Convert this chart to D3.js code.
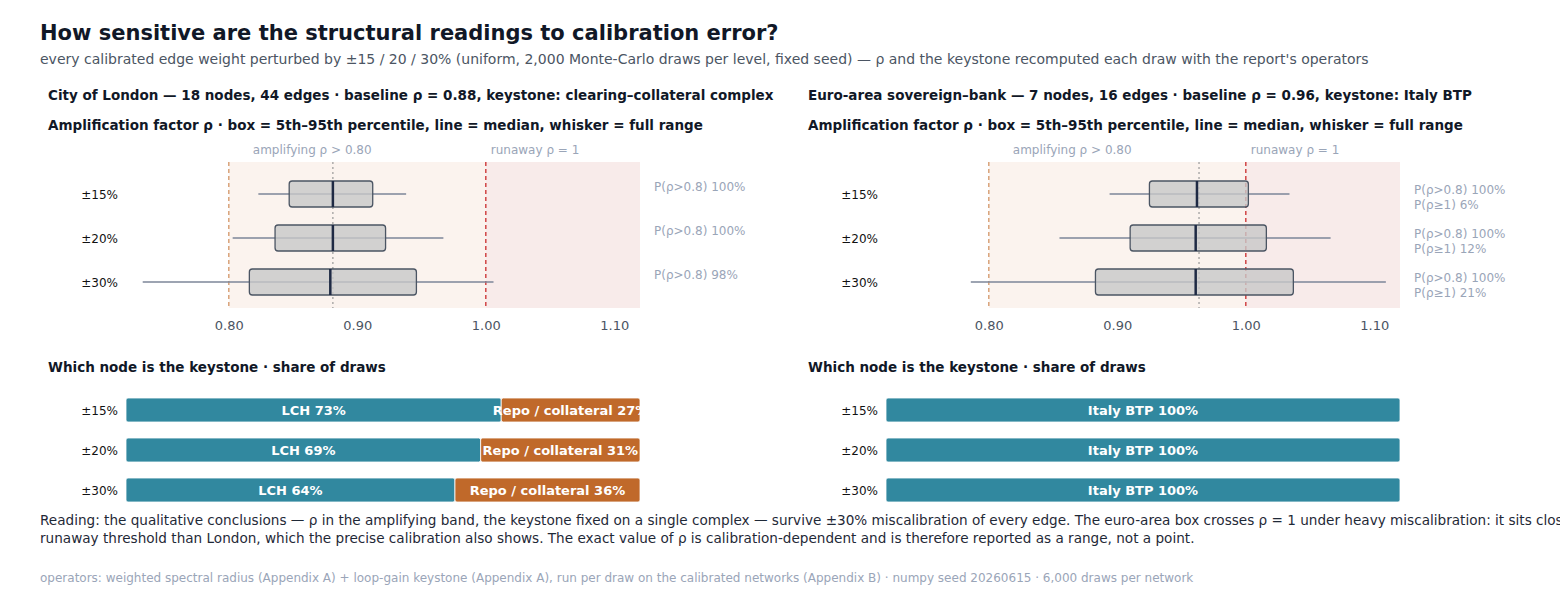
<!DOCTYPE html><html><head><meta charset="utf-8">
<script src="https://cdn.jsdelivr.net/npm/d3@7"></script>
<style>body{margin:0;background:#fff;font-family:"DejaVu Sans",sans-serif}</style></head><body>
<svg id="c" width="1560" height="600"></svg>
<script>
const levels=["±15%","±20%","±30%"];
const panels=["City of London — 18 nodes, 44 edges · baseline ρ = 0.88, keystone: clearing–collateral complex","Euro-area sovereign–bank — 7 nodes, 16 edges · baseline ρ = 0.96, keystone: Italy BTP"];
const baseline=[0.881,0.9636];
// [whiskerLo, p5, median, p95, whiskerHi]
const londonStats=[[0.823,0.847,0.881,0.912,0.938],[0.803,0.836,0.881,0.922,0.967],[0.733,0.816,0.879,0.946,1.006]];
const euroStats=[[0.894,0.925,0.962,1.002,1.034],[0.855,0.910,0.961,1.016,1.066],[0.786,0.883,0.961,1.037,1.109]];
const londonProb=[["P(ρ>0.8) 100%"],["P(ρ>0.8) 100%"],["P(ρ>0.8) 98%"]];
const euroProb=[["P(ρ>0.8) 100%","P(ρ≥1) 6%"],["P(ρ>0.8) 100%","P(ρ≥1) 12%"],["P(ρ>0.8) 100%","P(ρ≥1) 21%"]];
const londonKey=[[["LCH",73],["Repo / collateral",27]],[["LCH",69],["Repo / collateral",31]],[["LCH",64],["Repo / collateral",36]]];
const euroKey=[[["Italy BTP",100]],[["Italy BTP",100]],[["Italy BTP",100]]];
const xTicks=[0.8,0.9,1.0,1.1];
const svg=d3.select("#c");
svg.append("text").attr("x",40).attr("y",40).attr("font-size",21).attr("font-weight","bold").attr("fill","#111827").text("How sensitive are the structural readings to calibration error?");
svg.append("text").attr("x",40).attr("y",64).attr("font-size",14).attr("fill","#4b5563").text("every calibrated edge weight perturbed by ±15 / 20 / 30% (uniform, 2,000 Monte-Carlo draws per level, fixed seed) — ρ and the keystone recomputed each draw with the report's operators");
const colors=["#31889f","#c0692a"];
function panel(i,stats,probs,keys){
  const ox=i*760;
  const g=svg.append("g").attr("transform",`translate(${ox},0)`);
  g.append("text").attr("x",48).attr("y",100).attr("font-size",13.5).attr("font-weight","bold").attr("fill","#111827").text(panels[i]);
  g.append("text").attr("x",48).attr("y",130).attr("font-size",13.5).attr("font-weight","bold").attr("fill","#111827").text("Amplification factor ρ · box = 5th–95th percentile, line = median, whisker = full range");
  const x=d3.scaleLinear().domain([0.72,1.12]).range([126,640]);
  const y=d3.scalePoint().domain(levels).range([194,282]);
  const bh=26;
  const top=162,bot=308;
  g.append("rect").attr("x",x(0.8)).attr("y",top).attr("width",x(1)-x(0.8)).attr("height",bot-top).attr("fill","#fbf3ee");
  g.append("rect").attr("x",x(1)).attr("y",top).attr("width",x(1.12)-x(1)).attr("height",bot-top).attr("fill","#f8ebea");
  g.append("line").attr("x1",x(0.8)).attr("x2",x(0.8)).attr("y1",top).attr("y2",bot).attr("stroke","#d9a27a").attr("stroke-width",1.5).attr("stroke-dasharray","4,3");
  g.append("line").attr("x1",x(1)).attr("x2",x(1)).attr("y1",top).attr("y2",bot).attr("stroke","#d04444").attr("stroke-width",1.5).attr("stroke-dasharray","4,3");
  g.append("line").attr("x1",x(baseline[i])).attr("x2",x(baseline[i])).attr("y1",top).attr("y2",bot).attr("stroke","#999").attr("stroke-width",1.2).attr("stroke-dasharray","2,3");
  g.append("text").attr("x",x(0.8)+24).attr("y",154).attr("font-size",12).attr("fill","#9aa5b8").text("amplifying ρ > 0.80");
  g.append("text").attr("x",x(1)+5).attr("y",154).attr("font-size",12).attr("fill","#9aa5b8").text("runaway ρ = 1");
  const ax=g.append("g").attr("transform",`translate(0,${bot})`).call(d3.axisBottom(x).tickValues(xTicks).tickFormat(d3.format(".2f")).tickSize(0).tickPadding(13));
  ax.select(".domain").remove();ax.selectAll("text").attr("font-size",13).attr("fill","#4b5563").attr("font-family","DejaVu Sans");
  levels.forEach((l,k)=>{
    const s=stats[k],cy=y(l);
    g.append("text").attr("x",118).attr("y",cy+5).attr("text-anchor","end").attr("font-size",12).attr("fill","#111").text(l);
    g.append("line").attr("x1",x(s[0])).attr("x2",x(s[4])).attr("y1",cy).attr("y2",cy).attr("stroke","#7d8699").attr("stroke-width",1.6);
    g.append("rect").attr("x",x(s[1])).attr("y",cy-bh/2).attr("width",x(s[3])-x(s[1])).attr("height",bh).attr("rx",3).attr("fill","#c8c8c8").attr("fill-opacity",0.8).attr("stroke","#4b5563").attr("stroke-width",1.3);
    g.append("line").attr("x1",x(s[2])).attr("x2",x(s[2])).attr("y1",cy-bh/2).attr("y2",cy+bh/2).attr("stroke","#1f2a44").attr("stroke-width",2.5);
    probs[k].forEach((t,j)=>g.append("text").attr("x",654).attr("y",cy+(probs[k].length>1?0:-3)+j*15).attr("font-size",12).attr("fill","#9aa5b8").text(t));
  });
  g.append("text").attr("x",48).attr("y",372).attr("font-size",13.5).attr("font-weight","bold").attr("fill","#111827").text("Which node is the keystone · share of draws");
  const xb=d3.scaleLinear().domain([0,100]).range([126,640]);
  const yb=d3.scalePoint().domain(levels).range([410,490]);
  const kh=24;
  levels.forEach((l,k)=>{
    const cy=yb(l);
    g.append("text").attr("x",118).attr("y",cy+5).attr("text-anchor","end").attr("font-size",12).attr("fill","#111").text(l);
    let acc=0;
    keys[k].forEach(([n,v],j)=>{
      g.append("rect").attr("x",xb(acc)).attr("y",cy-kh/2).attr("width",xb(acc+v)-xb(acc)).attr("height",kh).attr("rx",2).attr("fill",colors[j]).attr("stroke","#fff").attr("stroke-width",0.8);
      g.append("text").attr("x",(xb(acc)+xb(acc+v))/2).attr("y",cy+5).attr("text-anchor","middle").attr("font-size",13).attr("font-weight","bold").attr("fill","#fff").text(`${n} ${v}%`);
      acc+=v;
    });
  });
}
panel(0,londonStats,londonProb,londonKey);
panel(1,euroStats,euroProb,euroKey);
svg.append("text").attr("x",40).attr("y",525).attr("font-size",13.6).attr("fill","#1f2937").text("Reading: the qualitative conclusions — ρ in the amplifying band, the keystone fixed on a single complex — survive ±30% miscalibration of every edge. The euro-area box crosses ρ = 1 under heavy miscalibration: it sits closer to the");
svg.append("text").attr("x",40).attr("y",543).attr("font-size",13.6).attr("fill","#1f2937").text("runaway threshold than London, which the precise calibration also shows. The exact value of ρ is calibration-dependent and is therefore reported as a range, not a point.");
svg.append("text").attr("x",40).attr("y",582).attr("font-size",12).attr("fill","#9aa5b8").text("operators: weighted spectral radius (Appendix A) + loop-gain keystone (Appendix A), run per draw on the calibrated networks (Appendix B) · numpy seed 20260615 · 6,000 draws per network");
</script></body></html>
